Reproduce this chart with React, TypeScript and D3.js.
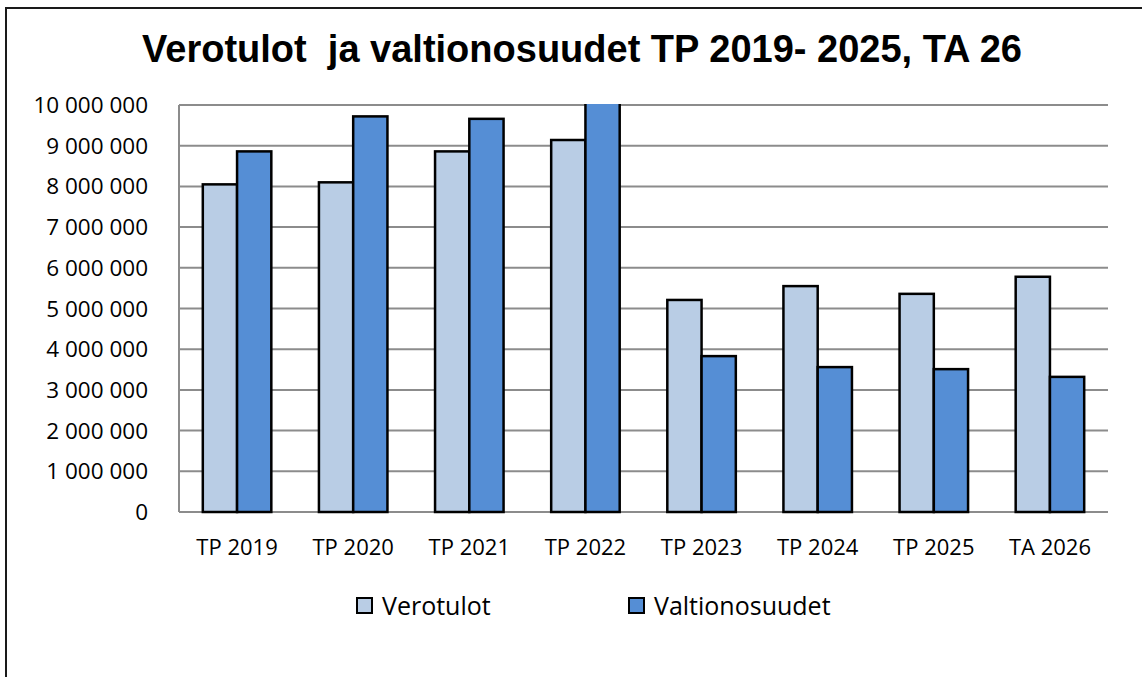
import React, { useEffect, useRef } from "react";
import * as d3 from "d3";

const categories = ["TP 2019", "TP 2020", "TP 2021", "TP 2022", "TP 2023", "TP 2024", "TP 2025", "TA 2026"];
const verotulot = [8050000, 8100000, 8860000, 9140000, 5210000, 5550000, 5360000, 5780000];
const valtionosuudet = [8860000, 9720000, 9660000, 10300000, 3830000, 3560000, 3510000, 3320000];
const seriesNames = ["Verotulot", "Valtionosuudet"];
const yTicks = [0, 1000000, 2000000, 3000000, 4000000, 5000000, 6000000, 7000000, 8000000, 9000000, 10000000];

const colors = ["#B9CDE5", "#558ED5"];

export default function App() {
  const ref = useRef<SVGSVGElement | null>(null);

  useEffect(() => {
    const width = 1142,
      height = 677;
    const plot = { left: 179, top: 105, right: 1108, bottom: 512 };

    const svg = d3.select(ref.current);
    svg.selectAll("*").remove();

    // outer chart frame (runs off the bottom/right of the picture)
    svg
      .append("rect")
      .attr("x", 6)
      .attr("y", 8)
      .attr("width", width + 40)
      .attr("height", height + 40)
      .attr("fill", "white")
      .attr("stroke", "#1a1a1a")
      .attr("stroke-width", 2);

    // title
    svg
      .append("text")
      .attr("x", 582)
      .attr("y", 62)
      .attr("text-anchor", "middle")
      .style("font-family", "'Liberation Sans', Arial, sans-serif")
      .style("font-weight", "bold")
      .style("font-size", "38px")
      .style("white-space", "pre")
      .attr("xml:space", "preserve")
      .text("Verotulot  ja valtionosuudet TP 2019- 2025, TA 26");

    const x0 = d3.scaleBand().domain(categories).range([plot.left, plot.right]).padding(0);
    const gap = x0.bandwidth() * 0.205;
    const x1 = d3
      .scaleBand()
      .domain(seriesNames)
      .range([gap, x0.bandwidth() - gap])
      .padding(0);

    const y = d3.scaleLinear().domain([0, 10000000]).range([plot.bottom, plot.top]);

    const fmt = d3.formatLocale({ decimal: ",", thousands: " ", grouping: [3], currency: ["", "€"] }).format(",d");

    // gridlines
    svg
      .append("g")
      .selectAll("line")
      .data(yTicks)
      .join("line")
      .attr("x1", plot.left)
      .attr("x2", plot.right)
      .attr("y1", (d) => y(d))
      .attr("y2", (d) => y(d))
      .attr("stroke", "#8c8c8c")
      .attr("stroke-width", 2);

    // left axis line
    svg
      .append("line")
      .attr("x1", plot.left)
      .attr("x2", plot.left)
      .attr("y1", plot.top)
      .attr("y2", plot.bottom)
      .attr("stroke", "#8c8c8c")
      .attr("stroke-width", 2);

    // y labels
    svg
      .append("g")
      .selectAll("text")
      .data(yTicks)
      .join("text")
      .attr("x", 148)
      .attr("y", (d) => y(d) + 8)
      .attr("text-anchor", "end")
      .style("font-family", "'Open Sans', sans-serif")
      .style("font-size", "22.5px")
      .attr("fill", "#000")
      .text((d) => fmt(d));

    svg
      .append("clipPath")
      .attr("id", "plotclip")
      .append("rect")
      .attr("x", plot.left - 5)
      .attr("y", plot.top - 1)
      .attr("width", plot.right - plot.left + 10)
      .attr("height", plot.bottom - plot.top + 5);

    const rows = categories.map((c, i) => ({ cat: c, vals: [verotulot[i], valtionosuudet[i]] }));

    const groups = svg
      .append("g")
      .attr("clip-path", "url(#plotclip)")
      .selectAll("g")
      .data(rows)
      .join("g")
      .attr("transform", (d) => `translate(${x0(d.cat)},0)`);

    groups
      .selectAll("rect")
      .data((d) => d.vals.map((v, k) => ({ key: seriesNames[k], v, k })))
      .join("rect")
      .attr("x", (d) => x1(d.key)!)
      .attr("y", (d) => y(d.v))
      .attr("width", x1.bandwidth())
      .attr("height", (d) => plot.bottom - y(d.v))
      .attr("fill", (d) => colors[d.k])
      .attr("stroke", "#000")
      .attr("stroke-width", 2.5);

    // x labels
    svg
      .append("g")
      .selectAll("text")
      .data(categories)
      .join("text")
      .attr("x", (d) => x0(d)! + x0.bandwidth() / 2)
      .attr("y", 555)
      .attr("text-anchor", "middle")
      .style("font-family", "'Open Sans', sans-serif")
      .style("font-size", "22px")
      .text((d) => d);

    // legend
    const legendX = [357, 629];
    const legend = svg
      .append("g")
      .selectAll("g")
      .data(seriesNames)
      .join("g")
      .attr("transform", (d, i) => `translate(${legendX[i]},598)`);

    legend
      .append("rect")
      .attr("x", 0)
      .attr("y", 0)
      .attr("width", 15)
      .attr("height", 15)
      .attr("fill", (d, i) => colors[i])
      .attr("stroke", "#000")
      .attr("stroke-width", 2);

    legend
      .append("text")
      .attr("x", 25)
      .attr("y", 17)
      .style("font-family", "'Open Sans', sans-serif")
      .style("font-size", "25px")
      .text((d) => d);
  }, []);

  return (
    <svg
      ref={ref}
      width={1142}
      height={677}
      style={{ position: "absolute", left: 0, top: 0, background: "white" }}
    ></svg>
  );
}
